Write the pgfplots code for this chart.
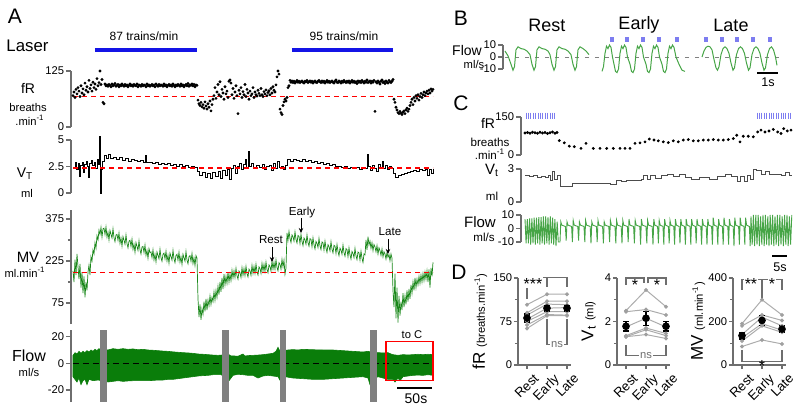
\documentclass[border=0pt]{standalone}
\usepackage{pgfplots}
\pgfplotsset{compat=1.18}
\usepackage{fontspec}
\setmainfont{Liberation Sans}
\usetikzlibrary{arrows.meta}
\definecolor{agreen}{RGB}{10,125,10}
\definecolor{mvgreen}{RGB}{25,135,25}
\definecolor{lgreen}{RGB}{70,165,70}
\definecolor{laserblue}{RGB}{20,20,230}
\definecolor{lblue}{RGB}{125,125,240}
\definecolor{axgray}{RGB}{110,110,110}
\newcommand\fs[1]{\fontsize{#1}{#1}\selectfont}
\pgfplotsset{
 trace/.style={scale only axis, anchor=south west, axis x line=none, axis y line*=left,
   axis line style={-, axgray, line width=0.6pt},
   ytick style={axgray, line width=0.6pt},
   tick align=outside, major tick length=2.5pt, minor tick length=1.5pt,
   yticklabel style={font=\fs{5.6}, inner sep=0.8pt, text=black},
   /pgf/number format/assume math mode=true, clip=false},
 dstyle/.style={scale only axis, anchor=south west, width=26.5pt, height=43.5pt, xmin=0.55, xmax=3.2,
   axis x line*=bottom, axis y line*=left,
   axis line style={-, axgray, line width=0.6pt},
   tick style={axgray, line width=0.6pt}, tick align=outside,
   major tick length=2pt, minor tick length=1.5pt,
   xtick={1,2,3}, xticklabels={Rest,Early,Late},
   xticklabel style={xshift=3pt, yshift=-1pt, rotate=45, anchor=north east, font=\fs{6.6}, inner sep=0.6pt, text=black},
   yticklabel style={font=\fs{5.6}, inner sep=0.8pt, text=black},
   ylabel style={inner sep=0.5pt, text=black}, ylabel shift=1.5pt,
   /pgf/number format/assume math mode=true, clip=false},
 subj/.style={gray!65, line width=0.5pt, mark=*, mark size=0.7pt, mark options={gray!75}},
 meanpt/.style={only marks, mark=*, mark size=1.7pt, black,
   error bars/.cd, y dir=both, y explicit,
   error bar style={black, line width=0.6pt},
   error mark options={rotate=90, black, mark size=1.4pt, line width=0.6pt}},
}
\tikzset{brk/.style={axgray, line width=0.6pt},
  nsf/.style={font=\fs{5.6}, inner sep=0.5pt, fill=white, text=axgray}}
\begin{document}
\begin{tikzpicture}
\useasboundingbox (0,0) rectangle (400pt,-207pt);

% ================= Panel A: fR =================
\begin{axis}[trace, at={(35.5pt,-63.5pt)}, width=182pt, height=28pt,
  xmin=-2, xmax=362, ymin=0, ymax=125, ytick={0,125}]
\addplot[laserblue, line width=2pt] coordinates {(22,172)(124,172)};
\addplot[laserblue, line width=2pt] coordinates {(219,172)(320,172)};
\addplot[red, line width=0.6pt, dash pattern=on 2.5pt off 2pt] coordinates {(0,68)(360,68)};
\addplot[only marks, mark=*, mark size=0.5pt, black] coordinates {
(0,70)(1,78)(2,66)(3,84)(4,74)(5,88)(6,80)(7,68)(8,92)(9,76)(10,85)(11,72)(12,98)(13,82)(14,90)(15,78)(16,104)(17,86)(18,94)(19,80)(20,100)(21,88)(22,96)(23,84)(24,108)(25,92)(26,99)(27,125)(28,95)(29,106)(30,55)(31,52)
(32,96)(33,92)(34,94)(35,91)(36,95)(37,93)(38,90)(39,96)(40,92)(41,94)(42,97)(43,91)(44,93)(45,95)(46,90)(47,94)(48,92)(49,96)(50,93)(51,91)(52,95)(53,92)(54,94)(55,90)(56,93)(57,96)(58,92)(59,94)(60,91)(61,95)(62,93)(63,92)(64,96)(65,90)(66,94)(67,93)(68,91)(69,95)(70,92)(71,94)(72,93)(73,90)(74,96)(75,92)(76,94)(77,91)(78,93)(79,95)(80,92)(81,94)(82,90)(83,96)(84,93)(85,91)(86,95)(87,92)(88,94)(89,93)(90,91)(91,96)(92,92)(93,94)(94,90)(95,93)(96,95)(97,92)(98,94)(99,91)(100,96)(101,93)(102,90)(103,94)(104,92)(105,95)(106,93)(107,91)(108,96)(109,92)(110,94)(111,90)(112,93)(113,95)(114,92)(115,97)(116,91)(117,94)(118,93)(119,96)(120,92)(121,95)(122,90)(123,94)(124,93)
(125,60)(126,52)(127,48)(128,55)(129,45)(130,50)(131,42)(132,56)(133,47)(134,40)(135,52)(136,44)(137,58)(138,36)(139,50)(140,62)
(141,70)(142,88)(143,64)(144,78)(145,95)(146,72)(147,101)(148,68)(149,84)(150,76)(151,62)(152,90)(153,74)(154,80)(155,66)(156,102)(157,105)(158,98)(159,72)(160,86)(161,64)(162,78)(163,92)(164,70)(165,30)(166,82)(167,74)(168,88)(169,66)(170,79)(171,72)(172,95)(173,68)(174,84)(175,76)(176,62)(177,80)(178,70)(179,74)(180,88)(181,66)(182,78)(183,72)(184,69)(185,82)(186,75)(187,70)(188,86)(189,72)(190,68)(191,79)(192,74)(193,83)(194,70)(195,77)(196,81)(197,72)(198,86)(199,76)(200,90)(201,82)(202,78)(203,94)(204,112)(205,125)(206,118)
(207,40)(208,32)(209,28)(210,48)(211,56)(212,62)(213,58)(214,66)(215,88)(216,92)(217,104)
(218,100)(219,103)(220,99)(221,102)(222,98)(223,101)(224,104)(225,100)(226,102)(227,99)(228,101)(229,103)(230,100)(231,98)(232,102)(233,101)(234,104)(235,99)(236,101)(237,103)(238,100)(239,102)(240,98)(241,101)(242,103)(243,100)(244,99)(245,102)(246,104)(247,101)(248,99)(249,103)(250,100)(251,102)(252,98)(253,101)(254,104)(255,100)(256,102)(257,99)(258,101)(259,103)(260,100)(261,98)(262,102)(263,105)(264,100)(265,99)(266,103)(267,101)(268,98)(269,102)(270,100)(271,104)(272,101)(273,99)(274,102)(275,100)(276,103)(277,98)(278,101)(279,104)(280,100)(281,102)(282,99)(283,101)(284,97)(285,103)(286,100)(287,102)(288,99)(289,104)(290,101)(291,98)(292,102)(293,100)(294,105)(295,99)(296,101)(297,103)(298,98)(299,102)(300,100)(301,104)(302,35)(303,101)(304,98)(305,103)(306,100)(307,96)(308,102)(309,105)(310,99)(311,101)(312,97)(313,103)(314,100)(315,98)(316,104)(317,101)(318,99)(319,102)(320,106)
(321,62)(322,55)(323,44)(324,38)(325,32)(326,30)(327,35)(328,31)(329,28)(330,33)(331,36)(332,30)(333,38)(334,42)(335,35)(336,40)(337,48)
(338,55)(339,62)(340,50)(341,66)(342,58)(343,70)(344,64)(345,72)(346,60)(347,68)(348,75)(349,66)(350,72)(351,78)(352,70)(353,76)(354,80)(355,74)(356,82)(357,76)(358,85)(359,80)(360,84)};
\end{axis}

% ================= Panel A: VT =================
\begin{axis}[trace, at={(35.5pt,-96.5pt)}, width=182pt, height=26.5pt,
  xmin=-2, xmax=362, ymin=0, ymax=5, ytick={0,2.5,5}]
\addplot[black, line width=0.45pt, const plot] coordinates {
(0,2.4)(2,2.9)(3,2.2)(5,2.8)(6,1.6)(7,2.6)(9,2.9)(10,1.9)(11,2.7)(13,3.0)(14,2.5)(15,1.5)(16,2.8)(18,3.1)(19,2.6)(21,2.9)(22,2.3)(24,3.2)(25,2.7)(26,5.3)(27,0.0)(28,2.2)(29,3.0)(31,3.5)(33,3.3)(35,3.6)(37,3.3)(40,3.4)(43,3.2)(46,3.35)(49,3.1)(52,3.25)(55,3.0)(58,3.15)(61,3.05)(64,2.95)(67,3.1)(70,2.9)(72,3.5)(73,2.9)(76,2.85)(79,2.75)(82,2.9)(85,2.7)(88,2.8)(91,2.65)(94,2.75)(97,2.6)(100,2.7)(103,2.55)(106,2.65)(109,2.5)(112,2.6)(115,2.45)(118,2.55)(121,2.4)(124,2.0)(126,1.7)(129,1.9)(132,1.5)(134,1.8)(137,1.35)(139,1.9)(142,1.6)(145,2.0)(147,1.4)(149,2.1)(152,1.7)(154,2.2)(156,1.3)(158,2.3)(160,2.6)(162,1.8)(164,2.5)(166,2.8)(168,2.2)(170,2.7)(172,3.2)(173,2.4)(175,3.9)(176,2.5)(178,2.8)(180,2.3)(183,2.6)(186,2.4)(189,2.7)(191,2.2)(193,2.5)(196,2.6)(198,2.1)(200,2.8)(202,2.3)(204,3.0)(206,2.4)(208,2.5)(210,2.2)(212,2.6)(214,3.2)(217,3.0)(220,3.2)(223,3.1)(226,3.0)(229,3.15)(232,2.95)(235,3.05)(238,2.9)(241,2.95)(244,2.8)(247,2.85)(250,2.7)(253,2.75)(256,2.6)(259,2.65)(262,2.5)(265,2.55)(268,2.45)(271,2.5)(274,2.35)(277,2.45)(280,2.3)(283,2.4)(286,2.25)(289,2.35)(292,2.3)(294,3.6)(295,2.5)(297,2.1)(299,2.6)(301,2.3)(303,2.0)(305,2.7)(307,2.4)(309,3.0)(310,2.3)(312,2.6)(314,2.2)(316,2.5)(318,2.3)(320,1.8)(322,1.5)(325,1.7)(328,1.75)(331,1.85)(334,1.9)(337,2.0)(340,2.1)(343,2.0)(346,2.2)(349,2.1)(352,2.2)(354,1.7)(356,2.2)(358,1.8)(360,2.3)};
\addplot[red, line width=0.6pt, dash pattern=on 2.5pt off 2pt] coordinates {(0,2.35)(360,2.35)};
\end{axis}

% ================= Panel A: MV =================
\begin{axis}[trace, at={(35.5pt,-162pt)}, width=182pt, height=57pt,
  xmin=-2, xmax=362, ymin=0, ymax=407, ytick={75,225,375}, minor ytick={150,300}]
\addplot[mvgreen, line width=0.35pt] coordinates {
(0,190)(1,150)(2,230)(3,175)(4,250)(5,205)(6,160)(7,215)(8,130)(9,185)(10,110)(11,170)(12,95)(13,150)(14,120)
(15,185)(16,210)(17,175)(18,240)(19,225)(20,265)(21,250)(22,290)(23,270)(24,315)(25,300)(26,335)(27,320)(28,345)(29,310)(30,340)
(31,342)(32,320)(33,347)(34,310)(35,328)(36,300)(37,334)(38,320)(39,307)(40,340)(41,308)(42,294)(43,318)(44,320)(45,299)(46,325)(47,288)(48,307)(49,278)(50,312)(51,299)(52,285)(53,318)(54,287)(55,272)(56,296)(57,299)(58,277)(59,303)(60,267)(61,285)(62,256)(63,291)(64,277)(65,263)(66,297)(67,265)(68,250)(69,275)(70,277)(71,255)(72,282)(73,245)(74,263)(75,235)(76,269)(77,255)
(78,257)(79,237)(80,265)(81,229)(82,249)(83,222)(84,257)(85,245)(86,233)(87,267)(88,237)(89,224)(90,249)(91,253)(92,233)(93,260)(94,225)(95,245)(96,217)(97,253)(98,241)(99,228)(100,263)(101,233)(102,219)(103,245)(104,249)(105,228)(106,256)(107,221)(108,240)(109,213)(110,249)(111,236)(112,224)(113,259)(114,228)(115,215)(116,241)(117,244)(118,224)(119,252)(120,216)(121,236)(122,209)(123,244)(124,235)
(125,90)(126,25)(127,70)(128,15)(129,55)(130,35)(131,80)(132,45)(133,90)(134,50)(135,85)(136,65)(137,100)(138,70)(139,95)(140,80)(141,115)(142,85)(143,120)(144,95)
(145,135)(146,105)(147,150)(148,115)(149,165)(150,125)(151,178)(152,140)(153,170)(154,145)(155,185)(156,150)(157,178)(158,155)(159,192)(160,165)
(161,190)(162,166)(163,199)(164,172)(165,160)(166,189)(167,183)(168,166)(169,201)(170,174)(171,198)(172,173)(173,206)(174,180)(175,168)(176,196)(177,190)(178,174)(179,209)(180,181)(181,205)(182,181)(183,214)(184,187)(185,175)(186,204)(187,198)(188,181)(189,216)(190,189)(191,213)(192,188)(193,221)(194,195)(195,183)(196,211)(197,205)(198,189)(199,224)(200,196)(201,220)(202,196)(203,229)(204,202)(205,190)(206,219)(207,213)(208,196)(209,231)(210,204)(211,228)(212,178)(213,200)
(214,325)(215,299)(216,331)(217,306)(218,291)(219,318)(220,311)(221,296)(222,329)(223,302)(224,289)(225,316)(226,313)(227,287)(228,320)(229,295)(230,280)(231,307)(232,300)(233,285)(234,318)(235,291)(236,278)(237,305)(238,302)(239,276)(240,308)(241,283)(242,268)(243,295)(244,288)(245,273)(246,306)(247,279)(248,266)(249,293)(250,290)(251,264)(252,296)(253,271)(254,256)(255,283)(256,276)(257,261)(258,294)(259,267)(260,254)(261,281)(262,278)(263,252)(264,284)(265,259)(266,244)(267,271)(268,264)(269,249)(270,282)(271,255)(272,242)(273,269)(274,266)(275,240)(276,272)(277,247)(278,232)(279,259)(280,252)(281,237)(282,270)(283,243)(284,230)(285,257)(286,254)(287,228)(288,260)(289,235)(290,220)(291,250)(292,247)
(293,300)(294,265)(295,312)(296,282)(297,296)(298,270)(299,290)(300,262)(301,284)(302,275)(303,258)(304,280)(305,250)(306,272)(307,262)(308,245)(309,268)(310,240)(311,258)(312,250)(313,232)(314,256)(315,238)(316,248)(317,226)(318,250)(319,235)
(320,120)(321,60)(322,180)(323,20)(324,130)(325,5)(326,100)(327,30)(328,80)(329,50)(330,110)(331,60)(332,100)(333,70)(334,120)(335,80)(336,125)(337,90)(338,140)(339,110)(340,150)(341,120)(342,165)(343,130)(344,160)(345,140)(346,170)(347,145)(348,175)(349,150)(350,180)(351,155)(352,185)(353,160)(354,190)(355,150)(356,195)(357,130)(358,200)(359,170)(360,220)};
\addplot[red, line width=0.6pt, dash pattern=on 2.5pt off 2pt] coordinates {(0,183)(360,183)};
\end{axis}

% ================= Panel A: Flow =================
\begin{axis}[trace, at={(35.5pt,-201pt)}, width=182pt, height=36pt,
  xmin=-2, xmax=362, ymin=-29, ymax=25, ytick={-20,0,20}]
\addplot[fill=agreen, draw=agreen, line width=0.3pt] coordinates {
(0,6)(2,8)(4,7)(6,9)(8,7.5)(10,9)(12,8)(14,9.5)(16,8.5)(18,10)(20,9)(22,10.5)(24,9.5)(26,11)(28,10)(30,10.5)(35,10)(40,11)(45,10.5)(50,11)(55,10.5)(60,10.8)(65,10.2)(70,10.5)(75,10)(80,9.8)(85,9.5)(90,9.2)(95,9)(100,8.6)(105,8.3)(110,8)(115,7.8)(120,7.5)(125,7)(130,6.8)(135,6.5)(140,6.2)(145,6)(150,6.3)(155,7)(158,5.5)(160,5.6)(165,5.3)(170,7)(172,5.5)(175,5.8)(180,6)(185,6.2)(190,6.5)(195,7)(200,7.5)(203,9)(205,12)(207,9)(210,9.5)(215,10)(220,10.3)(225,10)(230,10.5)(240,10.2)(250,10)(260,10)(270,9.5)(280,9)(290,8.5)(295,9)(300,8)(305,8)(310,7.8)(315,8)(318,7)(320,6.5)(325,6)(330,6.5)(335,6.3)(340,6.5)(345,6.8)(350,6.5)(355,6.8)(360,6.5)
(360,-9)(355,-8.5)(350,-9)(345,-8.8)(340,-9)(335,-9.5)(330,-10)(327,-13)(325,-11)(322,-14)(320,-12)(315,-12)(310,-11)(305,-10)(300,-12)(297,-16)(295,-11)(290,-10)(280,-10.5)(270,-11)(260,-11.5)(250,-12)(240,-12)(230,-11.5)(220,-11)(212,-10)(208,-14)(205,-10)(200,-9.5)(195,-9)(190,-9.5)(185,-11)(180,-9)(175,-9)(170,-8.5)(165,-8.2)(160,-9)(155,-14)(152,-10)(148,-8.5)(140,-8.5)(135,-9)(130,-9.2)(125,-9.5)(120,-10)(115,-10.5)(110,-11)(105,-11.5)(100,-12)(95,-12)(90,-12.5)(85,-12.5)(80,-12.8)(75,-13)(70,-13)(65,-13)(60,-13)(55,-13.2)(50,-13.5)(45,-13)(40,-13.5)(35,-14)(32,-13)(30,-25)(29,-13)(25,-12.5)(20,-13)(16,-12)(14,-16)(12,-12)(10,-13)(8,-16)(6,-11)(4,-14)(2,-12)(0,-10)} -- cycle;
\addplot[black, line width=0.4pt, dash pattern=on 3pt off 2pt] coordinates {(0,0)(360,0)};
\addplot[fill=gray, draw=none] coordinates {(27,-29)(34,-29)(34,25)(27,25)} -- cycle;
\addplot[fill=gray, draw=none] coordinates {(149,-29)(156,-29)(156,25)(149,25)} -- cycle;
\addplot[fill=gray, draw=none] coordinates {(207,-29)(213,-29)(213,25)(207,25)} -- cycle;
\addplot[fill=gray, draw=none] coordinates {(297,-29)(304,-29)(304,25)(297,25)} -- cycle;
\draw[red, line width=0.6pt] (axis cs:313,-12.8) rectangle (axis cs:360,16.6);
\end{axis}

% ================= Panel B =================
\begin{axis}[trace, at={(251.5pt,-34.5pt)}, width=142.5pt, height=12pt,
  xmin=0, xmax=285, ymin=-10, ymax=10, ytick={-10,0,10}]
\addplot[gray, line width=0.4pt, dash pattern=on 2pt off 3pt] coordinates {(2,0)(280,0)};
\addplot[lgreen, line width=0.5pt] coordinates {
(2,5)(5,1)(8,-6)(10,-11)(11.5,-8)(13,6)(15,8.5)(18,7)(21,6.5)(24,5)(27,2)(29,-6)(31,-11)(32.5,-8)(34,6)(36,8.5)(39,7)(42,6.5)(45,5)(47,2)(49,-6)(51,-11)(52.5,-8)(54,6)(56,8.5)(59,7)(62,6.5)(65,5)(68,2)(70,-6)(72,-11)(73.5,-8)(75,6)(77,8.5)(80,7)(83,5)(86,2)};
\addplot[lgreen, line width=0.5pt] coordinates {
(99,-12)(100.5,-8)(102,3)(103.5,9)(105,7)(106.5,10)(108,8)(109.5,0)(111,-6)(112.5,-12)(114,-13)(115.5,-10)
(117,3)(118.5,9)(120,7)(121.5,10)(123,8)(124.5,0)(127,-6)(128.5,-12)(130,-13)(131.5,-10)
(133,3)(134.5,9)(136,7)(137.5,10)(139,8)(140.5,0)(143,-6)(144.5,-12)(146,-13)(147.5,-10)
(149,3)(150.5,9)(152,7)(153.5,10)(155,8)(156.5,0)(159,-6)(160.5,-12)(162,-13)(163.5,-10)
(165,3)(166.5,9)(168,7)(169.5,10)(171,8)(173,0)(176,-6)(179,-11)(182,-12)};
\addplot[lgreen, line width=0.5pt] coordinates {
(199,0)(201,5)(203,8)(205,9)(207,8.5)(209,6)(211,-2)(213,-9)(214.5,-11)(216,-8)(218,2)(220,7)(222,8.5)(224,7)(226,3)(228,-5)(230,-11)(231.5,-9)(233.5,2)(235.5,7)(237.5,8.5)(239.5,7)(241.5,3)(243.5,-5)(245.5,-11)(247,-9)(249,2)(251,7)(253,8.5)(255,7)(257,3)(259,-5)(261,-11)(262.5,-9)(264.5,2)(266.5,7)(268.5,8.5)(270.5,6)(272.5,0)(274,-7)};
\addplot[only marks, mark=square*, mark size=0.9pt, lblue] coordinates {
(109,14.5)(124,14.5)(140,14.5)(156,14.5)(174,14.5)(203,14.5)(219,14.5)(234,14.5)(250,14.5)(267,14.5)};
\end{axis}

% ================= Panel C: fR =================
\begin{axis}[trace, at={(260.5pt,-77.5pt)}, width=136.5pt, height=19pt,
  xmin=0, xmax=273, ymin=0, ymax=150, ytick={0,150}]
\addplot[only marks, mark=|, mark size=1.5pt, lblue, line width=0.5pt] coordinates {
(5,155)(7.4,155)(9.8,155)(12.2,155)(14.6,155)(17,155)(19.4,155)(21.8,155)(24.2,155)(26.6,155)(29,155)(31.4,155)(33.8,155)
(236,155)(238.4,155)(240.8,155)(243.2,155)(245.6,155)(248,155)(250.4,155)(252.8,155)(255.2,155)(257.6,155)(260,155)(262.4,155)(264.8,155)(267.2,155)(269.6,155)};
\addplot[only marks, mark=*, mark size=0.5pt, black] coordinates {
(4,87)(6.5,89)(9,86)(11.5,90)(14,88)(16.5,86)(19,90)(21.5,87)(24,89)(26.5,85)(29,88)(31.5,91)(34,86)(36,89)
(38.3,57)(43.3,48)(48.3,35)(53.3,33)(60,26)(65,46)(72.3,26)(79,26)(85.7,26)(92.3,26)(99,26)(104,26)(109,26)
(114,46)(119,48)(124,52)(128.3,63)(133,59)(137.3,56)(142.3,52)(147.3,49)(152.3,56)(157.3,52)(162.3,59)(167.3,61)(172.3,56)(177.3,56)(182.3,59)(187.3,59)(192.3,61)(197.3,59)(202.3,59)(207.3,61)(212.3,65)(215.7,78)(219,52)(222.3,74)(227.3,74)(232.3,72)(236.7,91)(240,98)(244,91)(248,95)(252.3,101)(256.7,91)(260,85)(262.7,104)(266.3,95)(270,98)};
\end{axis}

% ================= Panel C: Vt =================
\begin{axis}[trace, at={(260.5pt,-101pt)}, width=136.5pt, height=16.5pt,
  xmin=0, xmax=273, ymin=0, ymax=3, ytick={0,3}]
\addplot[black!70, line width=0.4pt, const plot] coordinates {
(4,2.4)(8,2.3)(12,2.4)(16,2.25)(20,2.3)(24,2.2)(27,2.45)(29,2.0)(31,2.75)(33,2.1)(36,2.4)(39,1.4)(51,1.7)(56,1.7)(66,1.65)(80,1.7)(89,1.6)(95,1.95)(100,1.85)(105,2.0)(120,2.1)(122,2.45)(126,2.1)(129,2.4)(134,2.15)(140,2.4)(146,2.5)(152,2.3)(158,2.5)(164,2.2)(170,2.1)(178,2.2)(188,2.1)(196,2.3)(204,2.5)(210,2.35)(216,1.85)(219,2.3)(223,1.9)(226,2.4)(229,2.1)(232,3.0)(235,2.85)(240,2.5)(244,2.75)(248,2.5)(254,2.55)(260,2.4)(264,2.65)(268,2.4)(271,2.4)};
\end{axis}

% ================= Panel C: Flow =================
\begin{axis}[trace, at={(260.5pt,-121pt)}, width=136.5pt, height=13.5pt,
  xmin=0, xmax=273, ymin=-10, ymax=10, ytick={-10,0,10}]
\addplot[lgreen, line width=0.45pt] coordinates {
(4,7)(5.1,-11)(6.3,7)(7.4,-11)(8.6,7.5)(9.7,-12)(10.9,7.5)(12,-11)(13.2,8)(14.3,-12)(15.5,8)(16.6,-11)(17.8,8.5)(18.9,-12)(20.1,8.5)(21.2,-11)(22.4,9)(23.5,-12)(24.7,9)(25.8,-11)(27,8.5)(28.1,-12)(29.3,9)(30.4,-11)(31.6,8)(32.7,-12)(33.9,7)(35,-13)(36.2,5)(37.3,-10)
(39,-10)(39.8,5)(40.8,2.5)(44.4,1.5)
(45.2,-9)(46,5)(47,2.5)(50.6,1.5)
(51.4,-10)(52.2,6)(53.2,2.5)(56.8,1.5)
(57.6,-9)(58.4,5)(59.4,2.5)(63,1.5)
(63.8,-10)(64.6,6)(65.6,2.5)(69.2,1.5)
(70,-11)(70.8,5)(71.8,2.5)(75.4,1.5)
(76.2,-10)(77,6)(78,2.5)(81.6,1.5)
(82.4,-11)(83.2,5)(84.2,2.5)(87.8,1.5)
(88.6,-10)(89.4,6)(90.4,2.5)(94,1.5)
(94.8,-11)(95.6,6)(96.6,2.5)(100.2,1.5)
(101,-11)(101.8,6)(102.8,2.5)(106.4,1.5)
(107.2,-10)(108,7)(109,2.5)(112.6,1.5)
(113.4,-11)(114.2,6)(115.2,2.5)(118.8,1.5)
(119.6,-12)(120.4,7)(121.4,2.5)(125,1.5)
(125.8,-11)(126.6,6)(127.6,2.5)(131.2,1.5)
(132,-12)(132.8,7)(133.8,2.5)(136.6,1.5)
(137.4,-11)(138.2,6)(139.2,2.5)(142,1.5)
(142.8,-12)(143.6,7)(144.6,2.5)(147.4,1.5)
(148.2,-11)(149,6)(150,2.5)(152.8,1.5)
(153.6,-12)(154.4,7)(155.4,2.5)(158.2,1.5)
(159,-11)(159.8,7)(160.8,2.5)(163.6,1.5)
(164.4,-12)(165.2,7)(166.2,2.5)(169,1.5)
(169.8,-12)(170.6,7)(171.6,2.5)(174.4,1.5)
(175.2,-11)(176,7)(177,2.5)(179.8,1.5)
(180.6,-12)(181.4,7)(182.4,2.5)(185.2,1.5)
(186,-12)(186.8,7)(187.8,2.5)(190.6,1.5)
(191.4,-12)(192.2,8)(193.2,2.5)(196,1.5)
(196.8,-12)(197.6,7)(198.6,2.5)(201.4,1.5)
(202.2,-12)(203,8)(204,2.5)(206.8,1.5)
(207.6,-12)(208.4,7)(209.4,2.5)(212.2,1.5)
(213,-13)(213.8,8)(214.8,2.5)(217.6,1.5)
(218.4,-12)(219.2,8)(220.2,2.5)(223,1.5)
(223.8,-12)(224.6,8)(225.6,2.5)(228.4,1.5)
(229.2,-13)(230,9)
(231.2,-12)(232.4,10)(233.6,-13)(234.8,10)(236,-12)(237.2,10)(238.4,-13)(239.6,9)(240.8,-12)(242,10)(243.2,-13)(244.4,10)(245.6,-12)(246.8,9)(248,-13)(249.2,10)(250.4,-12)(251.6,10)(252.8,-13)(254,9)(255.2,-12)(256.4,10)(257.6,-13)(258.8,10)(260,-12)(261.2,9)(262.4,-13)(263.6,10)(264.8,-12)(266,10)(267.2,-13)(268.4,9)(269.6,-12)(270.8,10)};
\end{axis}

% ================= Panel D1: fR =================
\begin{axis}[dstyle, at={(259pt,-182.5pt)}, ymin=0, ymax=150, ytick={0,75,150}, minor ytick={37.5,112.5},
  ylabel={\fs{8.5}fR \fs{5.6}(breaths.min\textsuperscript{-1})}]
\addplot[subj] coordinates {(1,104)(2,122)(3,122)};
\addplot[subj] coordinates {(1,90)(2,110)(3,110)};
\addplot[subj] coordinates {(1,86)(2,105)(3,104)};
\addplot[subj] coordinates {(1,79)(2,98)(3,99)};
\addplot[subj] coordinates {(1,75)(2,92)(3,92)};
\addplot[subj] coordinates {(1,69)(2,87)(3,86)};
\addplot[subj] coordinates {(1,63)(2,85)(3,85)};
\addplot[meanpt] coordinates {(1,81) +- (0,7) (2,98) +- (0,5) (3,98) +- (0,5)};
\draw[brk] (axis cs:1,133) -- (axis cs:1,114);
\draw[brk] (axis cs:1.8,151) -- (axis cs:3,151) -- (axis cs:3,135);
\draw[brk] (axis cs:2,151) -- (axis cs:2,135);
\node[font=\fs{8}, inner sep=0pt] at (axis cs:1.3,140) {***};
\draw[brk] (axis cs:2,80) -- (axis cs:2,36) -- (axis cs:3,36) -- (axis cs:3,80);
\node[nsf] at (axis cs:2.5,36) {ns};
\end{axis}

% ================= Panel D2: Vt =================
\begin{axis}[dstyle, at={(308.5pt,-182.5pt)}, ymin=0, ymax=4, ytick={0,2,4}, minor ytick={1,3},
  ylabel={\fs{8.5}V\textsubscript{t} \fs{5.6}(ml)}, ylabel shift=3pt]
\addplot[subj] coordinates {(1,2.5)(2,3.45)(3,2.68)};
\addplot[subj] coordinates {(1,2.45)(2,2.55)(3,2.3)};
\addplot[subj] coordinates {(1,1.75)(2,2.15)(3,1.75)};
\addplot[subj] coordinates {(1,1.35)(2,1.7)(3,1.45)};
\addplot[subj] coordinates {(1,1.3)(2,1.62)(3,1.35)};
\addplot[subj] coordinates {(1,1.3)(2,1.4)(3,1.22)};
\addplot[meanpt] coordinates {(1,1.78) +- (0,0.22) (2,2.15) +- (0,0.32) (3,1.78) +- (0,0.22)};
\draw[brk] (axis cs:1,3.7) -- (axis cs:1,4.0) -- (axis cs:1.9,4.0) -- (axis cs:1.9,3.75);
\draw[brk] (axis cs:2.1,3.75) -- (axis cs:2.1,4.0) -- (axis cs:3,4.0) -- (axis cs:3,3.7);
\node[font=\fs{8}, inner sep=0pt] at (axis cs:1.45,3.68) {*};
\node[font=\fs{8}, inner sep=0pt] at (axis cs:2.55,3.68) {*};
\draw[brk] (axis cs:1,0.92) -- (axis cs:1,0.43) -- (axis cs:3,0.43) -- (axis cs:3,0.92);
\node[nsf] at (axis cs:2,0.43) {ns};
\end{axis}

% ================= Panel D3: MV =================
\begin{axis}[dstyle, at={(366.5pt,-182.5pt)}, ymin=0, ymax=400, ytick={0,200,400}, minor ytick={100,300},
  ylabel={\fs{8.5}MV \fs{5.6}(ml.min\textsuperscript{-1})}, ylabel shift=0pt]
\addplot[subj] coordinates {(1,190)(2,300)(3,230)};
\addplot[subj] coordinates {(1,180)(2,230)(3,205)};
\addplot[subj] coordinates {(1,140)(2,220)(3,180)};
\addplot[subj] coordinates {(1,125)(2,190)(3,160)};
\addplot[subj] coordinates {(1,110)(2,180)(3,150)};
\addplot[subj] coordinates {(1,85)(2,115)(3,97)};
\addplot[meanpt] coordinates {(1,135) +- (0,15) (2,205) +- (0,22) (3,165) +- (0,15)};
\draw[brk] (axis cs:1,345) -- (axis cs:1,392) -- (axis cs:3,392) -- (axis cs:3,345);
\draw[brk] (axis cs:2,392) -- (axis cs:2,305);
\node[font=\fs{8}, inner sep=0.3pt, fill=white] at (axis cs:1.45,374) {**};
\node[font=\fs{8}, inner sep=0.3pt, fill=white] at (axis cs:2.5,374) {*};
\draw[brk] (axis cs:1,70) -- (axis cs:1,15) -- (axis cs:3,15) -- (axis cs:3,70);
\node[font=\fs{8}, inner sep=0pt] at (axis cs:2,-5) {*};
\end{axis}

% ================= Text and annotations =================
\begin{scope}[x=0.5pt, y=-0.5pt]
% Panel A
\node[font=\fs{10.5}] at (15,16) {A};
\node[font=\fs{8.4}] at (27.5,46) {Laser};
\node[font=\fs{6}] at (144,36) {87 trains/min};
\node[font=\fs{6}] at (344,36) {95 trains/min};
\node[font=\fs{7}] at (28,88) {fR};
\node[font=\fs{5.6}] at (28,107) {breaths};
\node[font=\fs{5.6}] at (30,120) {.min\textsuperscript{-1}};
\node[font=\fs{7}] at (25,174) {V\textsubscript{T}};
\node[font=\fs{5.6}] at (27,193) {ml};
\node[font=\fs{7.5}] at (28,257) {MV};
\node[font=\fs{5.6}] at (25,272) {ml.min\textsuperscript{-1}};
\node[font=\fs{8}] at (29,356) {Flow};
\node[font=\fs{5.6}] at (29,372) {ml/s};
\node[font=\fs{5.8}] at (271,240) {Rest};
\node[font=\fs{5.8}] at (302,212) {Early};
\node[font=\fs{5.8}] at (390,232) {Late};
\draw[-{Stealth[length=2.5pt,width=2.2pt]}, line width=0.4pt] (272,247) -- (272,262);
\draw[-{Stealth[length=2.5pt,width=2.2pt]}, line width=0.4pt] (301,218) -- (301,233);
\draw[-{Stealth[length=2.5pt,width=2.2pt]}, line width=0.4pt] (388,239) -- (388,254);
\node[font=\fs{5.6}] at (412,335) {to C};
\draw[line width=0.6pt] (397,388) -- (432,388);
\node[font=\fs{7}] at (416,399) {50s};
% Panel B
\node[font=\fs{10.5}] at (461,18) {B};
\node[font=\fs{9}] at (547,25) {Rest};
\node[font=\fs{9}] at (639,25) {Early};
\node[font=\fs{9}] at (731,25) {Late};
\node[font=\fs{7}] at (467,50) {Flow};
\node[font=\fs{5.6}] at (474,64) {ml/s};
\draw[line width=0.6pt] (757,73) -- (778,73);
\node[font=\fs{6.3}] at (768,82) {1s};
% Panel C
\node[font=\fs{10.5}] at (461,103) {C};
\node[font=\fs{7}] at (488,123) {fR};
\node[font=\fs{5.8}] at (490,142) {breaths};
\node[font=\fs{5.8}] at (490,154) {.min\textsuperscript{-1}};
\node[font=\fs{7.5}] at (492,170) {V\textsubscript{t}};
\node[font=\fs{5.8}] at (492,196) {ml};
\node[font=\fs{7.5}] at (480,222) {Flow};
\node[font=\fs{5.8}] at (484,237) {ml/s};
\draw[line width=0.6pt] (772,256) -- (787,256);
\node[font=\fs{6.3}] at (780,267) {5s};
% Panel D
\node[font=\fs{10.5}] at (459,272) {D};
\end{scope}
\end{tikzpicture}
\end{document}
